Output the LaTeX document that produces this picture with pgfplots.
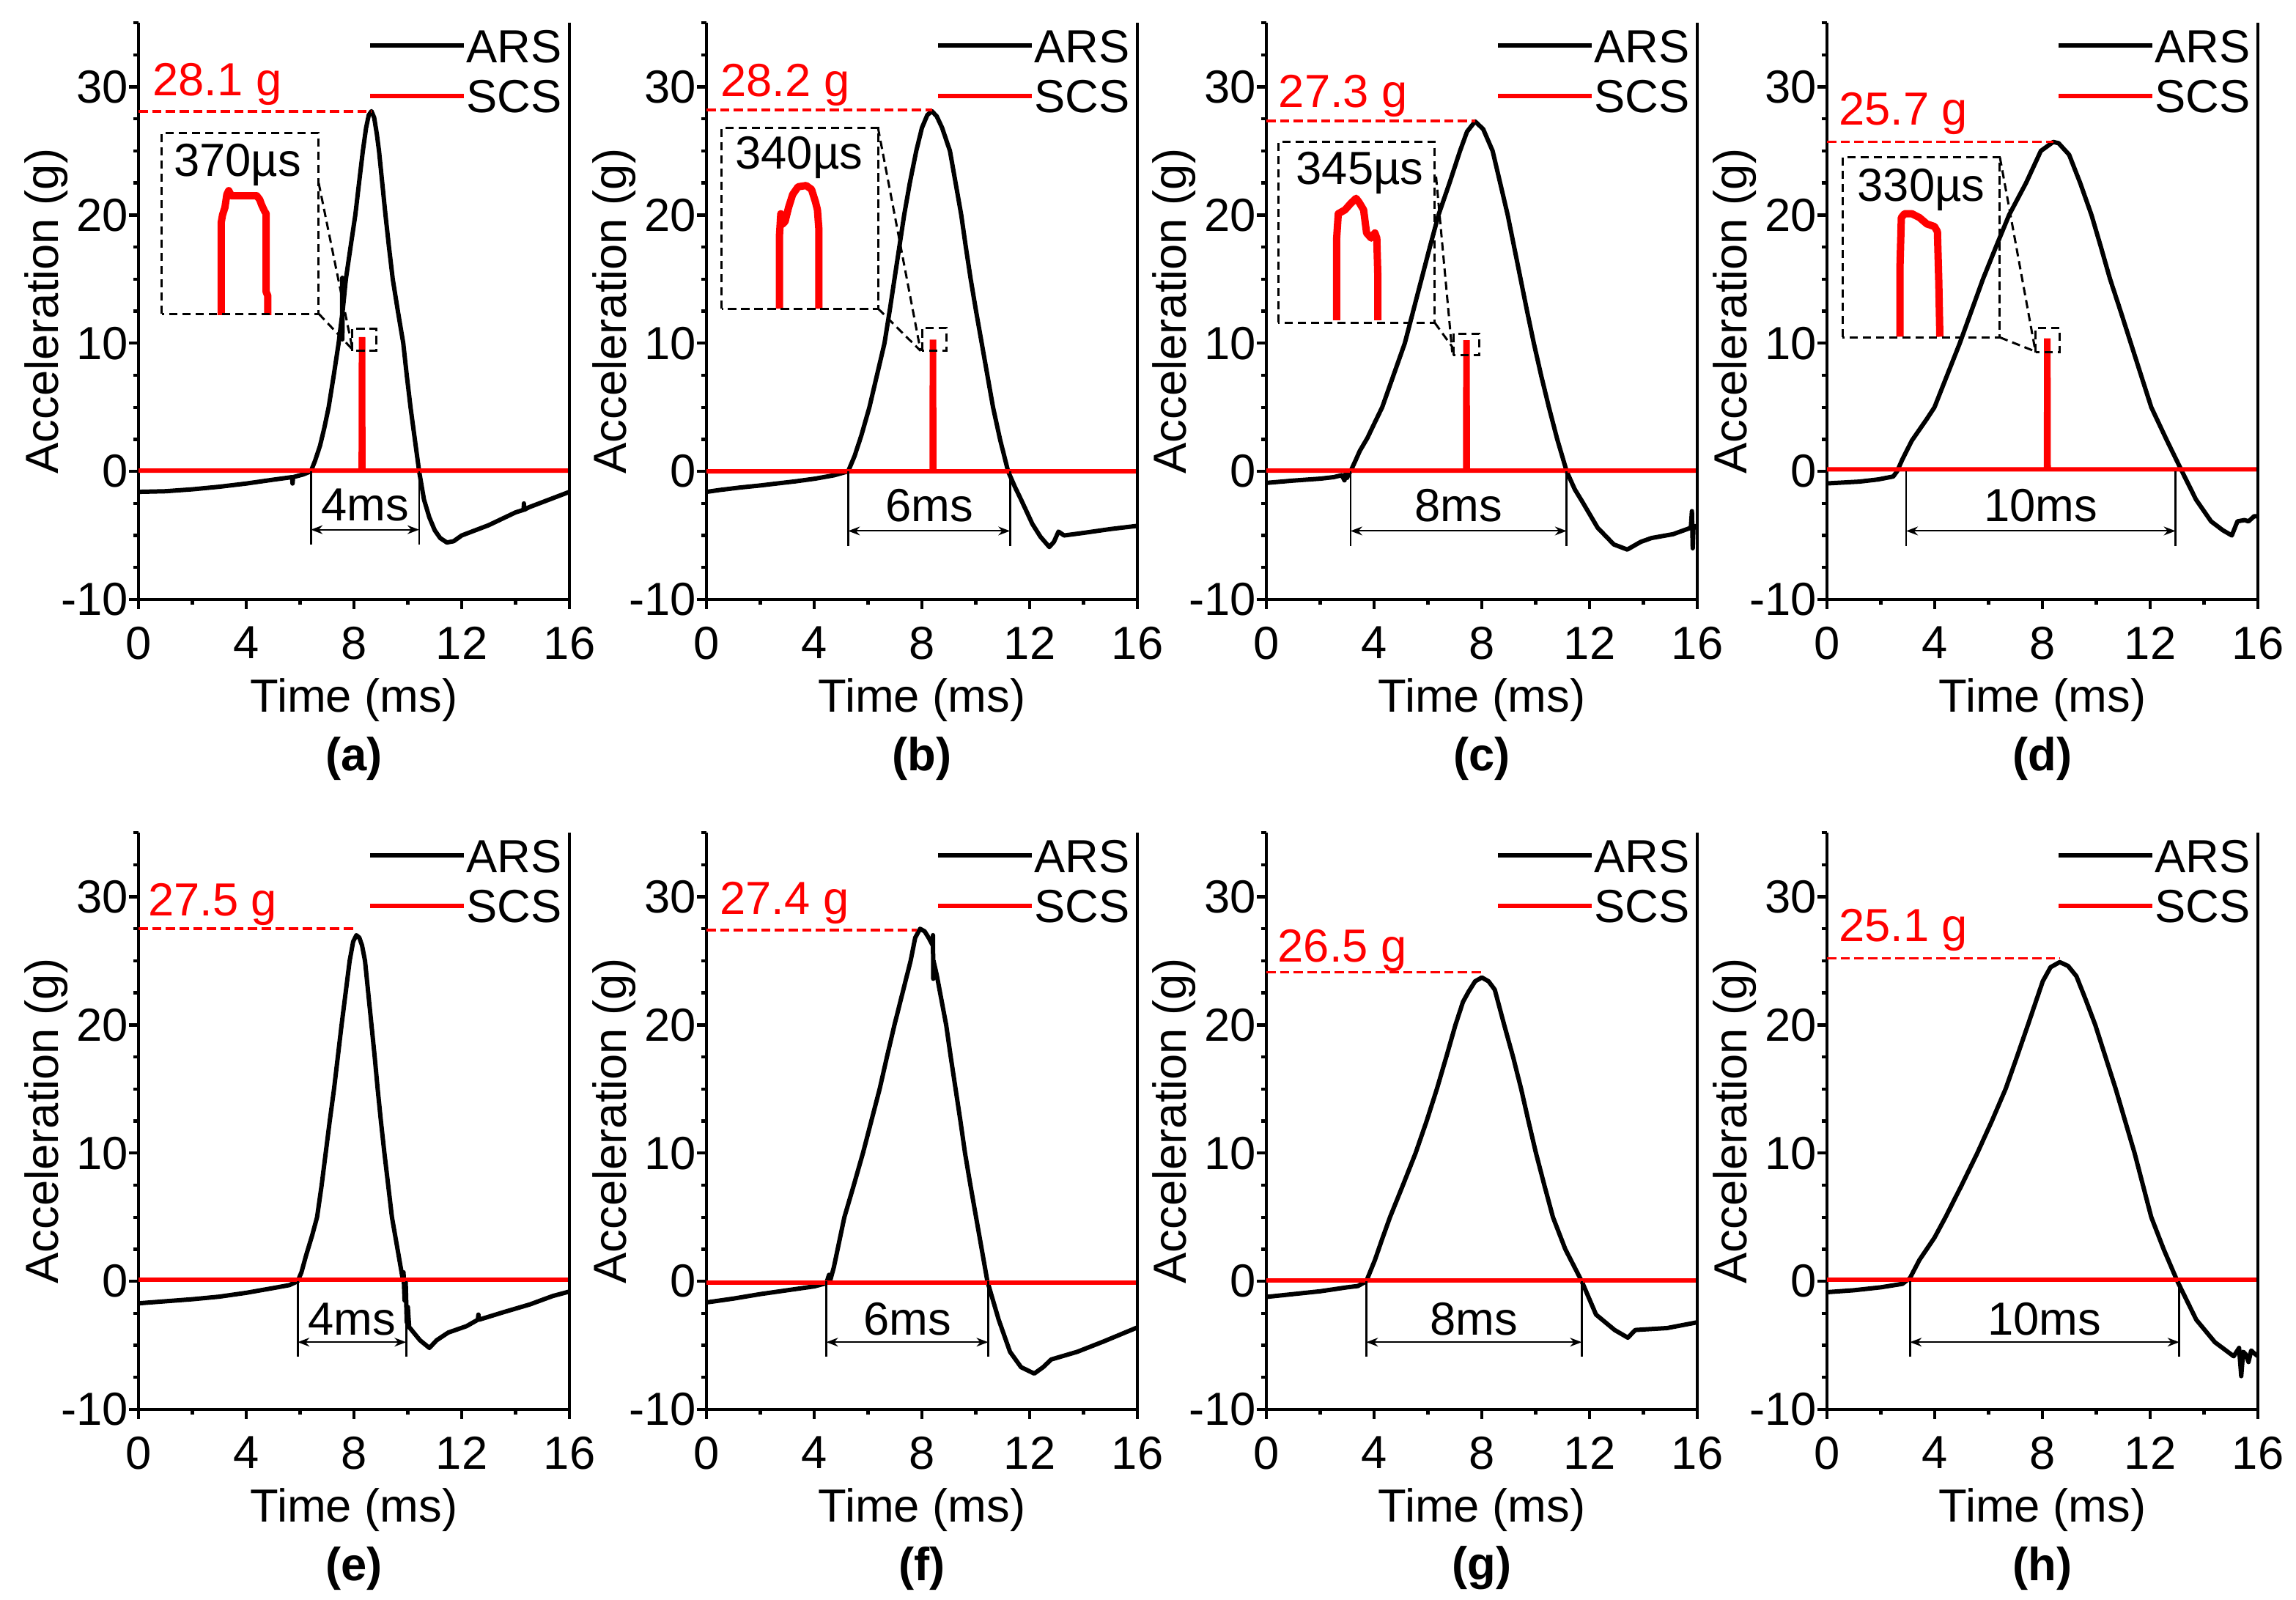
\documentclass[border=0pt]{standalone}
\usepackage{fontspec}
\setmainfont{Liberation Sans}
\usepackage{pgfplots}
\pgfplotsset{compat=1.18}
\usetikzlibrary{arrows.meta}
\newcommand{\fs}{\fontsize{9.5}{11}\selectfont}
\tikzset{blkdash/.style={black, line width=0.45pt, dash pattern=on 1.7pt off 1pt}}
\pgfplotsset{
  panel/.style={
    scale only axis, width=88.2pt, height=118.05pt, anchor=south west,
    xmin=0, xmax=16, ymin=-10, ymax=35,
    axis x line*=bottom, axis y line*=left,
    axis line style={line width=0.65pt, black},
    tick align=outside,
    xtick={0,4,8,12,16}, minor xtick={2,6,10,14},
    ytick={-10,0,10,20,30}, minor ytick={-7.5,-5,-2.5,2.5,5,7.5,12.5,15,17.5,22.5,25,27.5,32.5,35},
    major tick length=1.9pt, minor tick length=1.1pt,
    tick style={black, line width=0.65pt},
    /pgf/number format/assume math mode=true,
    tick label style={font=\fs},
    xticklabel style={anchor=north, inner sep=0pt},
    yticklabel style={anchor=east, inner sep=0pt},
    xticklabel shift=3.5pt,
    every axis x label/.style={at={(rel axis cs:0.5,0)}, anchor=center, yshift=-20.5pt, font=\fs},
    every axis y label/.style={at={(rel axis cs:0,0.5)}, anchor=center, xshift=-18.9pt, rotate=90, font=\fs},
    xlabel={Time (ms)}, ylabel={Acceleration (g)},
    clip=false,
    legend style={draw=none, fill=none, at={(1,1)}, anchor=north east, xshift=-1.6pt, yshift=-1.3pt, inner sep=0pt, outer sep=0pt, row sep=3.5pt, font=\fs, nodes={inner sep=0pt, text height=6.8pt, text depth=0pt}},
    legend cell align=right,
    legend image code/.code={\draw[#1] (0pt,0pt) -- (19.2pt,0pt);},
  },
  ars/.style={black, line width=0.9pt, line join=round},
  scs/.style={red, line width=0.9pt},
  pulse/.style={red, line width=1.5pt, line join=round, forget plot},
}
\newcommand{\peakann}[5]{%
  \draw[red, line width=0.55pt, dash pattern=on 1.9pt off 0.9pt] (axis cs:0,#2) -- (axis cs:#1,#2);
  \node[red, anchor=base west, inner sep=0pt, font=\fs] at (axis cs:#3,#4) {#5};}
\newcommand{\insetbox}[7]{%
  \draw[blkdash] (axis cs:#1,#3) rectangle (axis cs:#2,#4);
  \node[anchor=base, inner sep=0pt, font=\fs] at (axis cs:#5,#6) {#7};}
\newcommand{\zoombox}[4]{\draw[blkdash] (axis cs:#1,#3) rectangle (axis cs:#2,#4);}
\newcommand{\dimann}[7]{%
  \draw[line width=0.4pt] (axis cs:#1,0) -- (axis cs:#1,#4);
  \draw[line width=0.4pt] (axis cs:#2,0) -- (axis cs:#2,#4);
  \draw[line width=0.3pt, {Stealth[length=2.4pt,width=1.8pt]}-{Stealth[length=2.4pt,width=1.8pt]}] (axis cs:#1,#5) -- (axis cs:#2,#5);
  \node[inner sep=0pt, font=\fs] at (axis cs:#3,#6) {#7};}
\newcommand{\plabel}[1]{\node[font=\fs\bfseries, yshift=-32.5pt] at (rel axis cs:0.5,0) {#1};}
\newcommand{\raxisline}{\draw[line width=0.65pt] (rel axis cs:1,0) -- (rel axis cs:1,1);}
\begin{document}
\begin{tikzpicture}
\useasboundingbox (0,0) rectangle (469.95pt,327.3pt);
% (a)
\begin{axis}[panel, at={(28.35pt,204.6pt)}]
\addplot[ars] coordinates {(0,-1.6) (1,-1.55) (2,-1.4) (3,-1.2) (4,-0.95) (5,-0.65) (5.7,-0.45) (5.72,-0.95) (5.74,-0.45) (6.1,-0.25) (6.4,0) (6.55,0.8) (6.74,2) (6.9,3.4) (7.06,5) (7.25,7.5) (7.43,10) (7.56,12.2) (7.565,15.1) (7.57,10.3) (7.575,12.4) (7.7,15) (7.88,17.6) (8.05,20) (8.2,22.7) (8.33,25) (8.45,26.8) (8.55,27.8) (8.65,28.1) (8.75,27.6) (8.85,26.3) (8.93,25) (9.05,22.5) (9.17,20) (9.3,17.5) (9.44,15) (9.63,12.5) (9.83,10) (9.96,7.5) (10.1,5) (10.26,2.5) (10.42,0) (10.6,-2.2) (10.8,-3.6) (11.0,-4.6) (11.2,-5.2) (11.45,-5.55) (11.7,-5.45) (12.0,-5.0) (12.5,-4.6) (13,-4.2) (13.5,-3.7) (14,-3.2) (14.3,-3.0) (14.31,-2.5) (14.32,-3.0) (14.5,-2.8) (15,-2.4) (15.5,-2.0) (16,-1.6)};
\addlegendentry{ARS}
\addplot[scs] coordinates {(0,0.05) (8.25,0.05) (8.26,10.3) (8.34,10.3) (8.35,0.05) (16,0.05)};
\addlegendentry{SCS}
\addplot[pulse] coordinates {(3.07,12.2) (3.07,19.4) (3.12,20.0) (3.21,20.6) (3.28,21.6) (3.35,21.9) (3.45,21.5) (4.39,21.5) (4.5,21.2) (4.57,20.8) (4.68,20.3) (4.74,20.1) (4.74,14.0) (4.8,13.7) (4.8,12.2)};
\peakann{8.65}{28.1}{0.49}{29.3}{28.1 g}
\insetbox{0.86}{6.69}{12.3}{26.4}{3.68}{23.0}{370µs}
\zoombox{7.92}{8.82}{9.4}{11.1}
\draw[blkdash] (axis cs:6.69,22.5) -- (axis cs:7.95,9.5);
\draw[blkdash] (axis cs:6.69,12.3) -- (axis cs:7.95,9.5);
\dimann{6.4}{10.42}{8.41}{-5.7}{-4.55}{-2.65}{4ms}
\raxisline
\plabel{(a)}
\end{axis}
% (b)
\begin{axis}[panel, at={(144.6pt,204.6pt)}]
\addplot[ars] coordinates {(0,-1.6) (0.5,-1.45) (1.25,-1.26) (2,-1.1) (2.64,-0.94) (3.3,-0.78) (4.03,-0.57) (4.73,-0.31) (5.26,0) (5.5,1.2) (5.75,2.8) (6.05,5) (6.33,7.5) (6.61,10) (6.8,12.5) (6.98,15) (7.16,17.5) (7.34,20) (7.55,22.5) (7.79,25) (8.0,26.8) (8.2,27.8) (8.37,28.1) (8.55,27.7) (8.75,26.8) (9.04,25) (9.25,22.5) (9.46,20) (9.63,17.5) (9.81,15) (10.01,12.5) (10.22,10) (10.43,7.5) (10.64,5) (10.9,2.5) (11.2,0) (11.45,-1.2) (11.68,-2.2) (12.1,-4.1) (12.4,-5.1) (12.73,-5.9) (12.9,-5.5) (13.07,-4.7) (13.28,-5.0) (14,-4.8) (15,-4.5) (16,-4.25)};
\addlegendentry{ARS}
\addplot[scs] coordinates {(0,0) (8.36,0) (8.37,10.1) (8.45,10.1) (8.46,0) (16,0)};
\addlegendentry{SCS}
\addplot[pulse] coordinates {(2.71,12.7) (2.71,18.4) (2.76,20.1) (2.83,19.3) (2.92,19.5) (3.05,20.6) (3.2,21.6) (3.4,22.2) (3.7,22.3) (3.9,22.0) (4.05,21.0) (4.12,20.4) (4.17,19.0) (4.17,12.7)};
\peakann{8.37}{28.2}{0.49}{29.25}{28.2 g}
\insetbox{0.56}{6.37}{12.7}{26.8}{3.44}{23.6}{340µs}
\zoombox{8.0}{8.9}{9.4}{11.2}
\draw[blkdash] (axis cs:6.37,26.8) -- (axis cs:7.95,9.4);
\draw[blkdash] (axis cs:6.37,12.7) -- (axis cs:7.95,9.4);
\dimann{5.26}{11.27}{8.27}{-5.8}{-4.65}{-2.65}{6ms}
\raxisline
\plabel{(b)}
\end{axis}
% (c)
\begin{axis}[panel, at={(259.2pt,204.6pt)}]
\addplot[ars] coordinates {(0,-0.9) (1,-0.72) (2,-0.57) (2.5,-0.45) (2.8,-0.3) (2.9,-0.7) (2.95,-0.1) (3.0,-0.5) (3.05,-0.2) (3.125,0) (3.3,0.8) (3.47,1.6) (3.75,2.6) (4.0,3.7) (4.3,5) (4.72,7.5) (5.14,10) (5.45,12.5) (5.76,15) (6.07,17.5) (6.39,20) (6.8,22.5) (7.19,25) (7.45,26.5) (7.75,27.3) (8.05,26.7) (8.4,25) (8.68,22.5) (8.96,20) (9.2,17.5) (9.44,15) (9.68,12.5) (9.93,10) (10.2,7.5) (10.49,5) (10.8,2.5) (11.15,0) (11.45,-1.4) (11.74,-2.4) (12.3,-4.4) (12.9,-5.7) (13.4,-6.1) (13.9,-5.5) (14.3,-5.2) (15.1,-4.9) (15.76,-4.4) (15.8,-3.1) (15.83,-6.0) (15.86,-4.3) (16,-4.25)};
\addlegendentry{ARS}
\addplot[scs] coordinates {(0,0.06) (7.38,0.06) (7.39,10.06) (7.47,10.06) (7.48,0.06) (16,0.06)};
\addlegendentry{SCS}
\addplot[pulse] coordinates {(2.61,11.8) (2.61,18.2) (2.67,20.1) (2.92,20.4) (3.13,20.9) (3.33,21.3) (3.44,21.0) (3.61,20.4) (3.72,18.6) (3.89,18.2) (4.03,18.6) (4.1,18.2) (4.14,15.1) (4.14,11.8)};
\peakann{7.75}{27.35}{0.42}{28.4}{27.3 g}
\insetbox{0.44}{6.25}{11.6}{25.7}{3.47}{22.4}{345µs}
\zoombox{6.94}{7.89}{9.06}{10.75}
\draw[blkdash] (axis cs:6.3,23.0) -- (axis cs:6.9,9.3);
\draw[blkdash] (axis cs:6.25,11.6) -- (axis cs:6.94,9.6);
\dimann{3.125}{11.15}{7.14}{-5.8}{-4.65}{-2.65}{8ms}
\raxisline
\plabel{(c)}
\end{axis}
% (d)
\begin{axis}[panel, at={(373.95pt,204.6pt)}]
\addplot[ars] coordinates {(0,-0.94) (1.2,-0.8) (1.9,-0.63) (2.46,-0.4) (2.6,0) (2.8,0.94) (3.15,2.4) (3.71,4.1) (3.99,5) (4.46,7.5) (4.93,10) (5.36,12.5) (5.79,15) (6.27,17.5) (6.76,20) (7.39,22.5) (7.94,25) (8.4,25.7) (8.6,25.6) (8.99,24.7) (9.4,22.5) (9.82,20) (10.17,17.5) (10.51,15) (10.9,12.5) (11.28,10) (11.66,7.5) (12.04,5) (12.6,2.5) (13.18,0) (13.7,-2.2) (14.26,-3.9) (14.7,-4.6) (15.03,-5.0) (15.24,-3.9) (15.5,-3.8) (15.65,-3.9) (15.86,-3.5) (16,-3.5)};
\addlegendentry{ARS}
\addplot[scs] coordinates {(0,0.15) (8.13,0.15) (8.14,10.2) (8.22,10.2) (8.23,0.15) (16,0.15)};
\addlegendentry{SCS}
\addplot[pulse] coordinates {(2.71,10.5) (2.71,16) (2.76,19.8) (2.88,20.1) (3.15,20.1) (3.43,19.8) (3.71,19.3) (3.99,19.1) (4.1,18.7) (4.15,14.8) (4.19,10.5)};
\peakann{8.4}{25.7}{0.4}{27.0}{25.7 g}
\insetbox{0.58}{6.42}{10.45}{24.5}{3.5}{21.1}{330µs}
\zoombox{7.74}{8.64}{9.28}{11.16}
\draw[blkdash] (axis cs:6.42,24.5) -- (axis cs:7.74,9.35);
\draw[blkdash] (axis cs:6.42,10.45) -- (axis cs:7.74,9.35);
\dimann{2.94}{12.94}{7.94}{-5.8}{-4.65}{-2.65}{10ms}
\raxisline
\plabel{(d)}
\end{axis}
% (e)
\begin{axis}[panel, at={(28.35pt,38.85pt)}]
\addplot[ars] coordinates {(0,-1.72) (1,-1.56) (2,-1.4) (3,-1.2) (4,-0.9) (5,-0.53) (5.6,-0.3) (5.91,0) (6.05,0.7) (6.22,2) (6.45,3.6) (6.63,5) (6.8,7.5) (6.95,10) (7.1,12.5) (7.26,15) (7.4,17.5) (7.54,20) (7.69,22.5) (7.84,25) (7.97,26.5) (8.09,27.0) (8.2,26.8) (8.3,26.2) (8.41,25) (8.53,22.5) (8.65,20) (8.77,17.5) (8.88,15) (9.0,12.5) (9.13,10) (9.27,7.5) (9.41,5) (9.66,2) (9.8,0.3) (9.84,0.7) (9.88,-1.5) (9.92,0) (9.96,-3.2) (10.0,-2.0) (10.05,-3.6) (10.1,-3.7) (10.45,-4.6) (10.8,-5.2) (11.07,-4.6) (11.5,-4.0) (12.18,-3.5) (12.6,-3.0) (12.62,-2.6) (12.64,-3.0) (13.57,-2.4) (14.54,-1.8) (15.38,-1.15) (16,-0.8)};
\addlegendentry{ARS}
\addplot[scs] coordinates {(0,0.1) (16,0.1)};
\addlegendentry{SCS}
\peakann{8.09}{27.5}{0.32}{28.5}{27.5 g}
\dimann{5.91}{9.94}{7.93}{-5.9}{-4.75}{-2.95}{4ms}
\raxisline
\plabel{(e)}
\end{axis}
% (f)
\begin{axis}[panel, at={(144.6pt,38.85pt)}]
\addplot[ars] coordinates {(0,-1.65) (1,-1.35) (2,-1.0) (3,-0.7) (4,-0.4) (4.45,-0.15) (4.55,0.5) (4.6,0.1) (4.73,1.1) (4.92,3) (5.12,5) (5.47,7.5) (5.81,10) (6.12,12.5) (6.43,15) (6.7,17.5) (6.98,20) (7.28,22.5) (7.58,25) (7.75,26.8) (7.93,27.5) (8.1,27.3) (8.25,26.8) (8.4,26.2) (8.41,27.0) (8.42,23.6) (8.43,25.0) (8.55,23.9) (8.72,22.0) (8.9,20) (9.07,17.5) (9.25,15) (9.43,12.5) (9.6,10) (9.8,7.5) (10.01,5) (10.22,2.5) (10.43,0) (10.85,-3.0) (11.27,-5.5) (11.68,-6.7) (12.17,-7.2) (12.5,-6.7) (12.8,-6.1) (13.77,-5.5) (14.74,-4.7) (16,-3.6)};
\addlegendentry{ARS}
\addplot[scs] coordinates {(0,-0.1) (16,-0.1)};
\addlegendentry{SCS}
\peakann{7.8}{27.4}{0.46}{28.6}{27.4 g}
\dimann{4.45}{10.46}{7.46}{-5.9}{-4.75}{-2.95}{6ms}
\raxisline
\plabel{(f)}
\end{axis}
% (g)
\begin{axis}[panel, at={(259.2pt,38.85pt)}]
\addplot[ars] coordinates {(0,-1.22) (1,-1.0) (2,-0.78) (3,-0.47) (3.4,-0.37) (3.71,0) (4.03,1.66) (4.3,3.3) (4.59,5) (5.07,7.5) (5.54,10) (5.95,12.5) (6.33,15) (6.68,17.5) (7.02,20) (7.3,21.8) (7.51,22.6) (7.75,23.4) (8.0,23.7) (8.25,23.4) (8.48,22.75) (8.83,20) (9.16,17.5) (9.46,15) (9.73,12.5) (10.01,10) (10.32,7.5) (10.64,5) (11.1,2.5) (11.71,0) (12.24,-2.6) (12.93,-3.8) (13.42,-4.4) (13.7,-3.8) (14.88,-3.65) (16,-3.2)};
\addlegendentry{ARS}
\addplot[scs] coordinates {(0,0.06) (16,0.06)};
\addlegendentry{SCS}
\peakann{8.1}{24.1}{0.39}{24.9}{26.5 g}
\dimann{3.71}{11.71}{7.71}{-5.9}{-4.75}{-2.95}{8ms}
\raxisline
\plabel{(g)}
\end{axis}
% (h)
\begin{axis}[panel, at={(373.95pt,38.85pt)}]
\addplot[ars] coordinates {(0,-0.85) (1,-0.7) (2,-0.47) (2.8,-0.2) (3.08,0.25) (3.43,1.66) (3.99,3.4) (4.4,5) (5.0,7.5) (5.58,10) (6.12,12.5) (6.63,15) (7.05,17.5) (7.46,20) (8.01,23.4) (8.3,24.5) (8.64,24.9) (8.95,24.6) (9.26,23.8) (9.6,22.0) (9.96,20) (10.34,17.5) (10.72,15) (11.07,12.5) (11.42,10) (11.73,7.5) (12.04,5) (12.5,2.5) (13.01,0) (13.71,-3.0) (14.4,-4.75) (15.1,-5.85) (15.3,-5.2) (15.38,-7.4) (15.45,-5.5) (15.55,-5.7) (15.65,-6.3) (15.75,-5.4) (15.85,-5.6) (16,-5.85)};
\addlegendentry{ARS}
\addplot[scs] coordinates {(0,0.1) (16,0.1)};
\addlegendentry{SCS}
\peakann{8.64}{25.2}{0.4}{26.5}{25.1 g}
\dimann{3.08}{13.08}{8.08}{-5.9}{-4.75}{-2.95}{10ms}
\raxisline
\plabel{(h)}
\end{axis}
\end{tikzpicture}
\end{document}
